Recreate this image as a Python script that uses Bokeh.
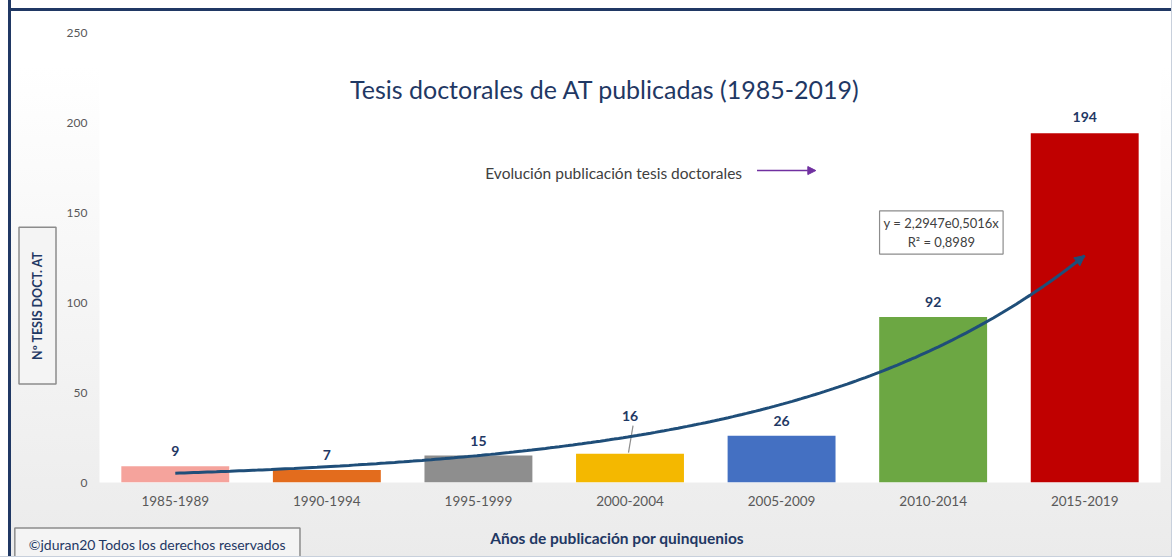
import numpy as np
from bokeh.plotting import figure
from bokeh.models import Label, Arrow, NormalHead, FixedTicker, Range1d
from bokeh.core.properties import value
from bokeh.embed import file_html
from bokeh.resources import INLINE

# ---------------- data ----------------
periods = ["1985-1989", "1990-1994", "1995-1999", "2000-2004",
           "2005-2009", "2010-2014", "2015-2019"]
theses = [9, 7, 15, 16, 26, 92, 194]
bar_colors = ["#F5A39C", "#E36C1D", "#8E8E8E", "#F4B800",
              "#4470C2", "#6CA743", "#C00000"]
y_ticks = [0, 50, 100, 150, 200, 250]
title_text = "Tesis doctorales de AT publicadas (1985-2019)"
legend_text = "Evolución publicación tesis doctorales"
trend_eq_text = "y = 2,2947e0,5016x\nR² = 0,8989"
y_title = "Nº TESIS DOCT. AT"
x_title = "Años de publicación por quinquenios"
copyright_text = "©jduran20 Todos los derechos reservados"

NAVY = "#1F3864"
FONT = "Lato"

xs = np.arange(1, len(periods) + 1)
# exponential trend fitted to the data (log-linear least squares)
slope, intercept = np.polyfit(xs, np.log(theses), 1)
xf = np.linspace(1, len(periods), 200)
yf = np.exp(intercept + slope * xf)

W, H = 1172, 557
FL, FT, FW, FH = 98, 32, 1062, 450
p = figure(width=W, height=H,
           x_range=Range1d(0.5, len(periods) + 0.5),
           y_range=Range1d(0, 250),
           output_backend="svg", toolbar_location=None,
           min_border_left=FL, min_border_right=W - FL - FW,
           min_border_top=FT, min_border_bottom=H - FT - FH)

p.styles = {
    "background": ", ".join([
        "linear-gradient(to right, #ffffff 0px, #ffffff 8px, #203864 8px, #203864 11px, transparent 11px)",
        "linear-gradient(to bottom, #ffffff 0px, #ffffff 8px, #203864 8px, #203864 11px, transparent 11px)",
        "linear-gradient(to bottom, #ffffff 0%, #ffffff 12%, #ebebeb 100%)",
    ]),
    "border-right": "1px solid #c8d0dc",
    "border-bottom": "1px solid #c8d0dc",
}
p.border_fill_alpha = 0
p.background_fill_color = "white"
p.outline_line_color = None
p.xgrid.grid_line_color = None
p.ygrid.grid_line_color = None

for ax in (p.xaxis, p.yaxis):
    ax.axis_line_color = None
    ax.major_tick_line_color = None
    ax.minor_tick_line_color = None
    ax.major_label_text_font = FONT
    ax.major_label_text_color = "#595959"

p.xaxis.ticker = FixedTicker(ticks=[int(i) for i in xs])
p.xaxis.major_label_overrides = {int(i): lab for i, lab in zip(xs, periods)}
p.xaxis.major_label_text_font_size = "13.5px"
p.xaxis.major_label_standoff = 7
p.yaxis.ticker = FixedTicker(ticks=y_ticks)
p.yaxis.major_label_text_font_size = "12px"
p.yaxis.major_label_standoff = 6

# bars
p.vbar(x=xs, top=theses, width=0.712, bottom=0, fill_color=bar_colors,
       line_color=None)

# value labels
label_offsets = [-15, -15, -15, -38, -15, -15, -16]
p.text(x=xs, y=theses, text=[str(v) for v in theses],
       y_offset=label_offsets, text_align="center", text_baseline="middle",
       text_font=value(FONT), text_font_style="bold",
       text_font_size="14px", text_color=NAVY)

# leader line for the "16" label
px_per_unit = FH / 250
i4 = 3
p.segment(x0=[xs[i4] + 0.02], y0=[theses[i4] + 28 / px_per_unit],
          x1=[xs[i4] - 0.01], y1=[theses[i4] + 1 / px_per_unit],
          line_color="#8c8c8c", line_width=1.2)

# trend line
p.line(xf, yf, line_color="#1F4E79", line_width=3)
p.add_layout(Arrow(end=NormalHead(size=10, fill_color="#1F4E79",
                                  line_color="#1F4E79"),
                   x_start=xf[-3], y_start=yf[-3], x_end=xf[-1], y_end=yf[-1],
                   line_color="#1F4E79", line_width=3))

# title
p.add_layout(Label(x=3.836, y=218.7, text=title_text, text_align="center",
                   text_baseline="middle", text_font=FONT,
                   text_font_size="25px", text_color=NAVY))

# legend-like text with arrow
p.add_layout(Label(x=3.045, y=172.2, text=legend_text, text_align="left",
                   text_baseline="middle", text_font=FONT,
                   text_font_size="15.5px", text_color="#404040"))
p.add_layout(Arrow(end=NormalHead(size=8, fill_color="#7030A0",
                                  line_color="#7030A0"),
                   x_start=4.838, y_start=173.3, x_end=5.226, y_end=173.3,
                   line_color="#7030A0", line_width=1.5))

# equation box
p.add_layout(Label(x=6.054, y=138.9, text=trend_eq_text, text_align="center",
                   text_baseline="middle", text_font=FONT,
                   text_font_size="13px", text_color="#404040",
                   background_fill_color="white",
                   border_line_color="#8c8c8c", border_line_width=1.2,
                   padding=4))

# y title box (in the left panel so it is not clipped to the frame)
p.add_layout(Label(x=0.091, y=98.3, text=y_title, angle=np.pi / 2,
                   text_align="center", text_baseline="middle",
                   text_font=FONT, text_font_style="bold",
                   text_font_size="12.5px", text_color=NAVY,
                   background_fill_color="#f4f4f4",
                   border_line_color="#8c8c8c", border_line_width=1.5,
                   padding=(24, 11)), "left")

# x title (kept in the top panel only for layout room; placed by data coords)
p.add_layout(Label(x=3.915, y=-30.6, text=x_title, text_align="center",
                   text_baseline="middle", text_font=FONT,
                   text_font_style="bold", text_font_size="15.5px",
                   text_color=NAVY), "above")

# copyright box
p.add_layout(Label(x=0.882, y=-34.5, text=copyright_text, text_align="center",
                   text_baseline="middle", text_font=FONT,
                   text_font_size="14px", text_color=NAVY,
                   background_fill_color="#f4f4f4",
                   border_line_color="#8c8c8c", border_line_width=1.5,
                   padding=(14, 8)), "below")

open("out.html", "w").write(file_html(p, INLINE))
